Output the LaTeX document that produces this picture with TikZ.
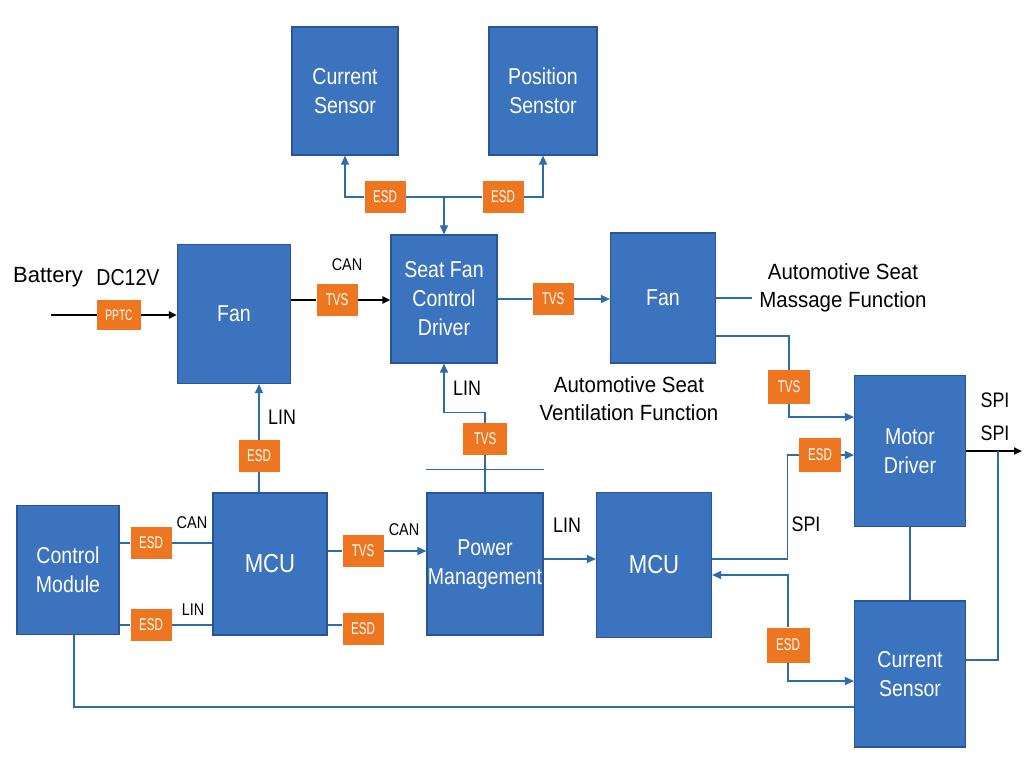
\documentclass[tikz,border=0pt]{standalone}
\usepackage{fontspec}
\setmainfont{Liberation Sans}[FakeStretch=0.85]
\newfontfamily\tagfont{Liberation Sans}[FakeStretch=0.68]
\newfontfamily\widefont{Liberation Sans}[FakeStretch=0.93]
\newfontfamily\plainfont{Liberation Sans}
\usetikzlibrary{arrows.meta}
\definecolor{blkfill}{RGB}{60,115,190}
\definecolor{blkline}{RGB}{40,85,150}
\definecolor{tagfill}{RGB}{238,118,32}
\definecolor{wirecol}{RGB}{45,108,168}

\begin{document}
\begin{tikzpicture}[x=1pt,y=-1pt,
		blk/.style 2 args={draw=blkline,line width=1.2pt,fill=blkfill,text=white,align=center,inner sep=0pt,
			minimum width=#1pt,minimum height=#2pt,font=\fontsize{23}{29}\selectfont},
		tag/.style={fill=tagfill,text=white,inner sep=0pt,minimum width=41pt,minimum height=32pt,
			font=\tagfont\fontsize{17}{17}\selectfont},
		wire/.style={draw=wirecol,line width=1.2pt},
		arr/.style={wire,-{Triangle[length=9pt,width=8pt]}},
		pwrline/.style={draw=black,line width=2pt},
		pwr/.style={pwrline,-{Triangle[length=8pt,width=7pt]}},
		lbl/.style={inner sep=0pt,align=center,font=\fontsize{#1}{28}\selectfont},
		lbl/.default=21]
	\useasboundingbox[fill=white] (0,0) rectangle (1024,768);
	
	\node[blk={106}{128}] (cs1) at (345,91) {Current\\Sensor};
	\node[blk={108}{128}] (ps) at (543,91) {Position\\Senstor};
	\node[tag] (esdA) at (385,197) {ESD};
	\node[tag] (esdB) at (503,197) {ESD};
	\node[blk={106}{128}] (sfcd) at (444,299) {Seat Fan\\Control\\Driver};
	\node[tag] (tvs2) at (553,299) {TVS};
	\node[blk={105}{130}] (fan2) at (663,298) {Fan};
	\node[blk={113}{139}] (fan1) at (234,314) {Fan};
	\node[tag,minimum width=44pt,minimum height=30pt,font=\tagfont\fontsize{15}{15}\selectfont] (pptc) at (119,315) {PPTC};
	\node[tag] (tvs1) at (337,300) {TVS};
	\node[tag] (esd3) at (259,456) {ESD};
	\node[blk={114}{142},font=\fontsize{26}{29}\selectfont] (mcu1) at (270,564) {MCU};
	\node[blk={102}{129}] (cm) at (68,570) {Control\\Module};
	\node[tag] (esdC) at (151,543) {ESD};
	\node[tag] (esdL) at (151,625) {ESD};
	\node[tag] (tvs3) at (363,551) {TVS};
	\node[tag] (esd4) at (363,629) {ESD};
	\node[blk={116}{142}] (pm) at (485,564) {Power\\Management};
	\node[tag,minimum width=44pt] (tvs4) at (485,439) {TVS};
	\node[blk={115}{145},font=\fontsize{26}{29}\selectfont] (mcu2) at (654,565) {MCU};
	\node[tag,minimum width=42pt,minimum height=34pt] (tvs5) at (789,387) {TVS};
	\node[blk={111}{151}] (md) at (910,451) {Motor\\Driver};
	\node[tag,minimum width=42pt,minimum height=34pt] (esd5) at (820,455) {ESD};
	\node[blk={111}{146}] (cs2) at (910,674) {Current\\Sensor};
	\node[tag,minimum width=43pt,minimum height=35pt] (esd6) at (788,645) {ESD};
	
	\node[lbl,font=\plainfont\fontsize{22}{22}\selectfont] (batt) at (48,277) {Battery};
	\node[lbl=23] (dc) at (128,278) {DC12V};
	\node[lbl=17] (can1) at (347,265) {CAN};
	\node[lbl] (lin1) at (282,417) {LIN};
	\node[lbl] (lin2) at (467,388) {LIN};
	\node[lbl,font=\widefont\fontsize{22}{28}\selectfont] (vent) at (629,399) {Automotive Seat\\Ventilation Function};
	\node[lbl,font=\widefont\fontsize{22}{28}\selectfont] (mass) at (843,288) {Automotive Seat\\Massage Function};
	\node[lbl=17] (can2) at (192,523) {CAN};
	\node[lbl=17] (lin3) at (193,610) {LIN};
	\node[lbl=17] (can3) at (404,530) {CAN};
	\node[lbl] (lin4) at (567,525) {LIN};
	\node[lbl] (spi1) at (806,524) {SPI};
	\node[lbl] (spi2) at (995,400) {SPI};
	\node[lbl] (spi3) at (995,433) {SPI};
	
	\coordinate (bat) at (51,315);
	\coordinate (mas) at (752,298);
	\coordinate (out) at (1022,451);
	\coordinate (tap) at (998,451);
	
	\draw[wire] (esdA) -- (esdB);
	\draw[arr] (esdA.west) -| (cs1.south);
	\draw[arr] (esdB.east) -| (ps.south);
	\draw[arr] (esdA.east -| sfcd.north) -- (sfcd.north);
	\draw[pwrline] (bat) -- (pptc.west);
	\draw[pwr] (pptc.east) -- (pptc.east -| fan1.west);
	\draw[pwrline] (tvs1.west -| fan1.east) -- (tvs1.west);
	\draw[pwr] (tvs1.east) -- (tvs1.east -| sfcd.west);
	\draw[wire] (tvs2.west -| sfcd.east) -- (tvs2.west);
	\draw[arr] (tvs2.east) -- (tvs2.east -| fan2.west);
	\draw[wire] (fan2.east) -- (mas);
	\draw[wire] ([yshift=-38pt]fan2.east) -| (tvs5.north);
	\draw[arr] (tvs5.south) |- ([yshift=34pt]md.west);
	\draw[arr] (esd5.east) -- (esd5.east -| md.west);
	\draw[wire] ([yshift=6pt]mcu2.east) -| ([xshift=-11pt]esd5.west) -- (esd5.west);
	\draw[arr] (esd6.north) |- ([yshift=-10pt]mcu2.east);
	\draw[arr] (esd6.south) |- ([yshift=-7pt]cs2.west);
	\draw[wire] (md.south) -- (cs2.north);
	\draw[pwr] (md.east) -- (out);
	\draw[wire] (tap) |- ([yshift=14pt]cs2.east);
	\draw[wire] ([xshift=6pt]cm.south) |- ([yshift=-33pt]cs2.west);
	\draw[wire] (cm.east |- esdC) -- (esdC.west);
	\draw[wire] (esdC.east) -- (esdC.east -| mcu1.west);
	\draw[wire] (cm.east |- esdL) -- (esdL.west);
	\draw[wire] (esdL.east) -- (esdL.east -| mcu1.west);
	\draw[wire] (mcu1.east |- tvs3) -- (tvs3.west);
	\draw[arr] (tvs3.east) -- (tvs3.east -| pm.west);
	\draw[wire] ([yshift=4pt]mcu1.east |- esd4) -- ([yshift=4pt]esd4.west);
	\draw[wire] (mcu1.north -| esd3) -- (esd3.south);
	\draw[arr] (esd3.north) -- (esd3.north |- fan1.south);
	\draw[wire] (pm.north -| tvs4) -- (tvs4.south);
	\draw[arr] (tvs4.north) -- ++(0,-10) -| (sfcd.south);
	\draw[wire] ([yshift=23pt]pm.north west) -- ([yshift=23pt]pm.north east);
	\draw[arr] ([yshift=5pt]pm.east) -- ([yshift=5pt]pm.east -| mcu2.west);
\end{tikzpicture}
\end{document}
